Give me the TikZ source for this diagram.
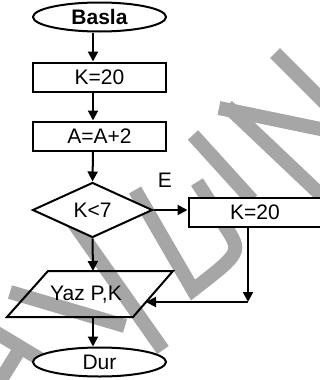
\documentclass[tikz,border=0pt]{standalone}
\usepackage{fontspec}
\setmainfont{Liberation Sans}
\usetikzlibrary{shapes.geometric,arrows.meta}
\definecolor{wmgray}{HTML}{A6A6A6}
\begin{document}
\begin{tikzpicture}[x=1pt,y=-1pt,
  font=\fontsize{21}{24}\selectfont,
  wm/.style={line width=14pt, draw=wmgray},
  shp/.style={draw, line width=2pt, fill=white, inner sep=0pt},
  termbox/.style={shp, ellipse, minimum width=133pt, minimum height=29pt},
  procbox/.style={shp, rectangle, minimum width=133pt, minimum height=29pt},
  decbox/.style={shp, diamond, minimum width=120pt, minimum height=55pt},
  arr/.style={line width=2pt, -{Triangle[length=10pt,width=10pt]}},
  plain/.style={line width=2pt}
  ]
\useasboundingbox (0,0) rectangle (320,380);
\clip (0,0) rectangle (320,380);
% watermark
\draw[wm] (275,53) -- (335,113);
\draw[wm] (227,106) -- (322,196);
\draw[wm] (219,108) -- (335,132);
\draw[wm] (193,135) -- (252,200);
\draw[wm, line join=miter] (197,182) -- (225,226) .. controls (242,252) .. (193,290) -- (135,190);
\draw[wm] (70,218) -- (163,350);
\draw[wm] (10,292) -- (125,326);
\draw[wm] (-5,332) -- (45,362);
\draw[wm] (-3,386) -- (18,352);
% diagram
\coordinate (col) at (93,0);
\node[termbox, font=\fontsize{21}{24}\selectfont\bfseries] (basla) at (99.5,17) {Basla};
\node[procbox] (k1) at (99.5,77) {K=20};
\node[procbox] (a) at (99.5,136) {A=A+2};
\node[decbox] (dec) at (92.5,210) {K<7};
\node[procbox] (k2) at (255,212) {K=20};
\node (elbl) at (165,180) {E};
\draw[plain] (48,271) -- (173,271) -- (133,317) -- (7,317) -- cycle;
\coordinate (ptop) at (93,271);
\coordinate (pbot) at (93,317);
\coordinate (pright) at (146,302);
\coordinate (corner) at (248,302);
\node (yaz) at (86,295) {Yaz P,K};
\node[termbox] (dur) at (99.5,362) {Dur};
\draw[arr] (basla.south -| col) -- (k1.north -| col);
\draw[arr] (k1.south -| col) -- (a.north -| col);
\draw[arr] (a.south -| col) -- (dec.north);
\draw[arr] (dec.east) -- (dec.east -| k2.west);
\draw[arr] (k2.south -| corner) -- (corner);
\draw[arr] (corner) -- (pright);
\draw[arr] (dec.south) -- (ptop);
\draw[arr] (pbot) -- (dur.north -| col);
\end{tikzpicture}
\end{document}
